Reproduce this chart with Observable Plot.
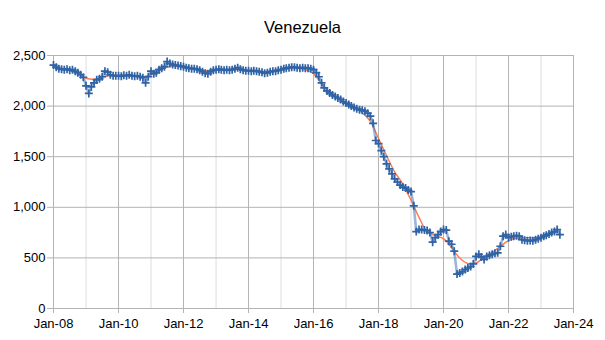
<!DOCTYPE html>
<html>
<head>
<meta charset="utf-8">
<script src="https://cdn.jsdelivr.net/npm/d3@7"></script>
<script src="https://cdn.jsdelivr.net/npm/@observablehq/plot@0.6"></script>
<style>
  body { margin: 0; background: #fff; }
  #title { width: 605px; height: 40px; box-sizing: border-box; padding-top: 18px; text-align: center;
           font-family: "Liberation Sans", Arial, sans-serif; font-size: 16.5px; line-height: 19px; color: #000; }
</style>
</head>
<body>
<div id="title">Venezuela</div>
<div id="chart"></div>
<script>
const chartTitle = "Venezuela";
const startYear = 2008;
// Monthly production, Jan-2008 .. Aug-2023
const production = [
  2405, 2385, 2370, 2365, 2360, 2365, 2355, 2360, 2345, 2330, 2310, 2285,
  2200, 2125, 2190, 2230, 2260, 2270, 2290, 2345, 2335, 2310, 2300, 2300,
  2300, 2295, 2305, 2300, 2310, 2300, 2295, 2300, 2290, 2280, 2230, 2290,
  2345, 2320, 2330, 2360, 2375, 2390, 2440, 2420, 2410, 2405, 2400, 2395,
  2390, 2380, 2375, 2370, 2370, 2365, 2355, 2340, 2325, 2320, 2340, 2355,
  2360, 2365, 2360, 2355, 2360, 2355, 2360, 2370, 2380, 2365, 2355, 2350,
  2350, 2345, 2350, 2345, 2340, 2335, 2325, 2330, 2340, 2345, 2345, 2355,
  2360, 2370, 2375, 2380, 2385, 2385, 2380, 2375, 2380, 2375, 2375, 2370,
  2360, 2330, 2290, 2230, 2180, 2150, 2130, 2110, 2095, 2080, 2065, 2045,
  2030, 2015, 2000, 1985, 1975, 1965, 1960, 1950, 1930, 1900, 1830, 1660,
  1630, 1560, 1500, 1430, 1380, 1330, 1280, 1250, 1220, 1200, 1190, 1170,
  1155, 1015,  760,  780,  780,  775,  770,  750,  655,  700,  730,  760,
   780,  775,  665,  635,  566,  340,  350,  365,  385,  400,  415,  440,
   515,  535,  510,  485,  515,  525,  535,  545,  550,  615,  715,  730,
   700,  710,  715,  720,  715,  680,  675,  670,  672,  670,  680,  690,
   700,  715,  725,  735,  750,  760,  780,  730
];
// Smoothed trend line
const trendMonths = [
  "2008-07","2008-10","2009-01","2009-04","2009-07","2009-10","2010-01","2010-04","2010-07","2010-10",
  "2011-01","2011-04","2011-07","2011-10","2012-01","2012-04","2012-07","2012-10","2013-01","2013-04",
  "2013-07","2013-10","2014-01","2014-04","2014-07","2014-10","2015-01","2015-04","2015-07","2015-10",
  "2016-01","2016-04","2016-07","2016-10","2017-01","2017-04","2017-07","2017-10","2018-01","2018-04",
  "2018-07","2018-10","2019-01","2019-04","2019-07","2019-10","2020-01","2020-04","2020-07","2020-10",
  "2021-01","2021-04","2021-07","2021-10","2022-01","2022-04","2022-07","2022-10","2023-01"
];
const trendValues = [
  2350, 2320, 2275, 2265, 2285, 2305, 2305, 2300, 2295, 2290,
  2310, 2350, 2385, 2395, 2385, 2370, 2355, 2350, 2355, 2360,
  2362, 2360, 2350, 2345, 2340, 2345, 2360, 2370, 2375, 2360,
  2320, 2220, 2140, 2080, 2030, 1985, 1935, 1850, 1680, 1510,
  1350, 1230, 1070,  900,  760,  720,  690,  600,  500,  445,
   450,  505,  555,  615,  670,  695,  700,  700,  705
];
const yTicks = [0, 500, 1000, 1500, 2000, 2500];
const majorYears = [2008, 2010, 2012, 2014, 2016, 2018, 2020, 2022, 2024];
const minorYears = [2009, 2011, 2013, 2015, 2017, 2019, 2021, 2023];

const monthly = production.map((v, i) => ({date: new Date(Date.UTC(startYear, i, 1)), value: v}));
const trend = trendMonths.map((m, i) => {
  const [yy, mm] = m.split("-").map(Number);
  return {date: new Date(Date.UTC(yy, mm - 1, 1)), value: trendValues[i]};
});
const yearDate = y => new Date(Date.UTC(y, 0, 1));
const majorDates = majorYears.map(yearDate);
const minorDates = minorYears.map(yearDate);

const chart = Plot.plot({
  width: 605,
  height: 300,
  marginLeft: 53,
  marginRight: 32,
  marginTop: 15,
  marginBottom: 32,
  style: {fontFamily: "'Liberation Sans', Arial, sans-serif", fontSize: "13px", background: "#fff", color: "#000"},
  x: {type: "utc", domain: [majorDates[0], majorDates[majorDates.length - 1]]},
  y: {domain: [0, 2500]},
  marks: [
    Plot.ruleX(minorDates, {stroke: "#dddddd", strokeWidth: 1}),
    Plot.ruleX(majorDates, {stroke: "#b3b3b3", strokeWidth: 1}),
    Plot.ruleY(yTicks, {stroke: "#b3b3b3", strokeWidth: 1}),
    Plot.axisX({ticks: majorDates, tickFormat: d3.utcFormat("%b-%y"), tickSize: 5, tickPadding: 5,
                stroke: "#b3b3b3", fill: "#000", label: null}),
    Plot.axisY({ticks: yTicks, tickFormat: d3.format(","), tickSize: 6, tickPadding: 2,
                stroke: "#b3b3b3", fill: "#000", label: null}),
    Plot.line(trend, {x: "date", y: "value", stroke: "#ff7a4f", strokeWidth: 1.4, curve: "catmull-rom"}),
    Plot.line(monthly, {x: "date", y: "value", stroke: "#4a78b8", strokeWidth: 2.6, strokeOpacity: 0.55}),
    Plot.dot(monthly, {x: "date", y: "value", symbol: "plus", r: 2.7, stroke: "#2f63a6", strokeWidth: 1.7})
  ]
});
document.getElementById("chart").appendChild(chart);
</script>
</body>
</html>
